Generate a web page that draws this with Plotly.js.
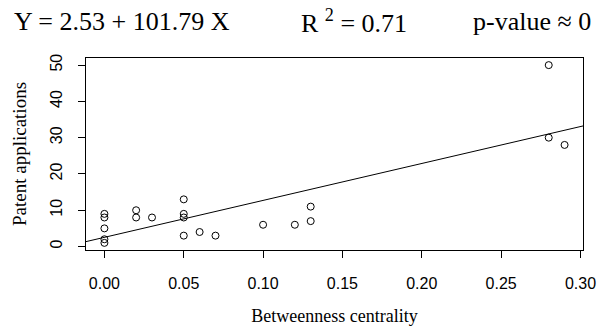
<!DOCTYPE html>
<html>
<head>
<meta charset="utf-8">
<script src="https://cdn.plot.ly/plotly-3.0.1.min.js"></script>
<style>
html,body{margin:0;padding:0;background:#fff;}
#chart{width:604px;height:326px;}
</style>
</head>
<body>
<div id="chart"></div>
<script>
// Data
const betweenness = [0.00, 0.00, 0.00, 0.00, 0.00, 0.02, 0.02, 0.03, 0.05, 0.05, 0.05, 0.05, 0.06, 0.07, 0.10, 0.12, 0.13, 0.13, 0.28, 0.28, 0.29];
const patents     = [9, 8, 5, 2, 1, 10, 8, 8, 13, 9, 8, 3, 4, 3, 6, 6, 11, 7, 50, 30, 28];
const intercept = 2.53;
const slope = 101.79;
const xTicks = [0, 0.05, 0.10, 0.15, 0.20, 0.25, 0.30];
const xTickText = ["0.00", "0.05", "0.10", "0.15", "0.20", "0.25", "0.30"];
const yTicks = [0, 10, 20, 30, 40, 50];
const yTickText = ["0", "10", "20", "30", "40", "50"];

// R-style 4% axis extension
const xmin = Math.min(...betweenness), xmax = Math.max(...betweenness);
const ymin = Math.min(...patents), ymax = Math.max(...patents);
const xr = [xmin - 0.04 * (xmax - xmin), xmax + 0.04 * (xmax - xmin)];
const yr = [ymin - 0.04 * (ymax - ymin), ymax + 0.04 * (ymax - ymin)];

const fitX = [xr[0], xr[1]];
const fitY = fitX.map(x => intercept + slope * x);

const serif = "Liberation Serif, Times New Roman, serif";
const sans = "Liberation Sans, Arial, sans-serif";

const traces = [
  {
    x: fitX, y: fitY, mode: "lines", type: "scatter",
    line: {color: "#000", width: 1}, hoverinfo: "skip"
  },
  {
    x: betweenness, y: patents, mode: "markers", type: "scatter",
    marker: {symbol: "circle-open", size: 7, color: "#000", line: {color: "#000", width: 1}}
  }
];

const layout = {
  width: 604, height: 326,
  margin: {l: 86, r: 21, t: 58, b: 76},
  paper_bgcolor: "#fff", plot_bgcolor: "#fff",
  showlegend: false,
  xaxis: {
    range: xr, tickvals: xTicks, ticktext: xTickText,
    showgrid: false, zeroline: false,
    showline: true, mirror: true, linecolor: "#000", linewidth: 1,
    ticks: "outside", ticklen: 7, tickcolor: "#000", tickwidth: 1,
    ticklabelstandoff: 12,
    tickfont: {family: sans, size: 16, color: "#000"},
    title: {text: "Betweenness centrality", font: {family: serif, size: 18, color: "#000"}, standoff: 19}
  },
  yaxis: {
    range: yr, tickvals: yTicks, ticktext: yTickText,
    showgrid: false, zeroline: false,
    showline: true, mirror: true, linecolor: "#000", linewidth: 1,
    ticks: "outside", ticklen: 7, tickcolor: "#000", tickwidth: 1,
    tickangle: -90, ticklabelstandoff: 10,
    tickfont: {family: sans, size: 16, color: "#000"},
    title: {text: "Patent applications", font: {family: serif, size: 19, color: "#000"}, standoff: 15}
  },
  annotations: [
    {text: "Y = 2.53 + 101.79 X", xref: "paper", yref: "paper", x: 0, y: 1, xanchor: "left", yanchor: "middle",
     xshift: -74, yshift: 37, showarrow: false, font: {family: serif, size: 26, color: "#000"}},
    {text: "R <sup>2</sup> = 0.71", xref: "paper", yref: "paper", x: 0, y: 1, xanchor: "left", yanchor: "middle",
     xshift: 213, yshift: 37, showarrow: false, font: {family: serif, size: 26, color: "#000"}},
    {text: "p-value ≈ 0", xref: "paper", yref: "paper", x: 1, y: 1, xanchor: "right", yanchor: "middle",
     xshift: 10, yshift: 37, showarrow: false, font: {family: serif, size: 26, color: "#000"}}
  ]
};

Plotly.newPlot("chart", traces, layout, {displayModeBar: false, staticPlot: true});
</script>
</body>
</html>
